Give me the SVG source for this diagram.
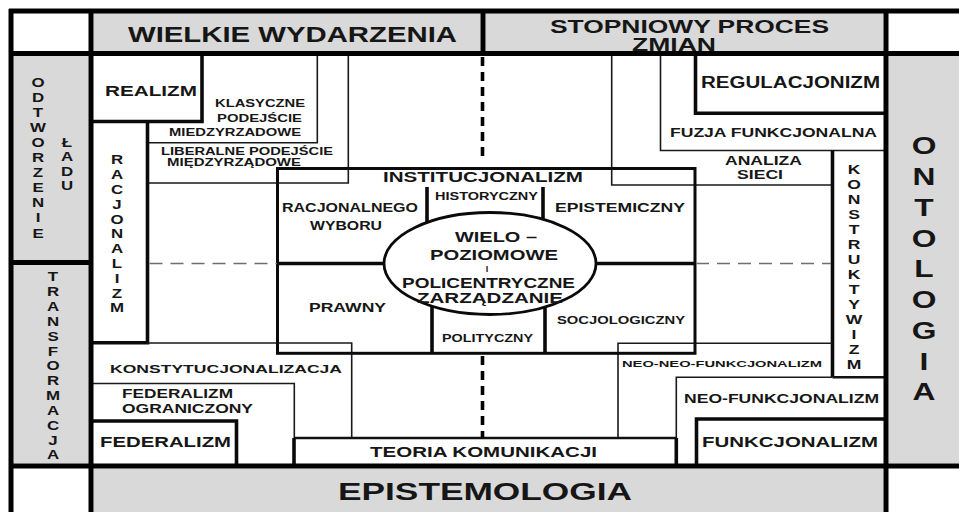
<svg xmlns="http://www.w3.org/2000/svg" width="959" height="512" viewBox="0 0 959 512">
<style>
text{font-family:"Liberation Sans",Arial,Helvetica,sans-serif;font-weight:bold;fill:#161616}
.band{fill:#d9d9d9}
.frame{stroke:#000;stroke-width:5;fill:none}
.thick{stroke:#0a0a0a;stroke-width:3.6;fill:none}
.mid{stroke:#111;stroke-width:2.6;fill:none}
.thin{stroke:#1a1a1a;stroke-width:1.6;fill:none}
.box{stroke:#0a0a0a;stroke-width:3;fill:none}
.axis{stroke:#000;stroke-width:3.6;stroke-dasharray:9 6;fill:none}
.grid{stroke:#6e6e6e;stroke-width:1.6;stroke-dasharray:13 8;fill:none}
.v text{text-anchor:middle}
</style>
<rect width="959" height="512" fill="#fff"/>

<!-- grey bands of the outer frame -->
<g id="bands">
  <rect class="band" x="93.5" y="13" width="387" height="38.5"/>
  <rect class="band" x="485.5" y="13" width="398" height="38.5"/>
  <rect class="band" x="13" y="56" width="75.5" height="204"/>
  <rect class="band" x="13" y="265" width="75.5" height="198.5"/>
  <rect class="band" x="888.5" y="56" width="70.5" height="407.5"/>
  <rect class="band" x="93.5" y="468.5" width="790" height="43.5"/>
</g>

<g id="wielkie-wydarzenia">
  <text x="128" y="42" font-size="22" textLength="329" lengthAdjust="spacingAndGlyphs">WIELKIE WYDARZENIA</text>
</g>
<g id="stopniowy-proces">
  <text x="550" y="32.5" font-size="17.5" textLength="279" lengthAdjust="spacingAndGlyphs">STOPNIOWY PROCES</text>
  <text x="632" y="51" font-size="17.5" textLength="84" lengthAdjust="spacingAndGlyphs">ZMIAN</text>
</g>
<g id="epistemologia">
  <text x="338" y="500" font-size="24" textLength="294" lengthAdjust="spacingAndGlyphs">EPISTEMOLOGIA</text>
</g>

<g id="odtworzenie-ladu" class="v">
  <g transform="translate(38 0) scale(1.35 1)">
    <text font-size="12.5"><tspan x="0" y="87.5">O</tspan><tspan x="0" y="102.5">D</tspan><tspan x="0" y="117.5">T</tspan><tspan x="0" y="132.5">W</tspan><tspan x="0" y="147.5">O</tspan><tspan x="0" y="162.5">R</tspan><tspan x="0" y="177.5">Z</tspan><tspan x="0" y="192.5">E</tspan><tspan x="0" y="207.5">N</tspan><tspan x="0" y="222.5">I</tspan><tspan x="0" y="237.5">E</tspan></text>
  </g>
  <g transform="translate(67 0) scale(1.35 1)">
    <text font-size="12.5"><tspan x="0" y="147.5">Ł</tspan><tspan x="0" y="161.5">A</tspan><tspan x="0" y="176">D</tspan><tspan x="0" y="190">U</tspan></text>
  </g>
</g>

<g id="transformacja" class="v">
  <g transform="translate(53 0) scale(1.35 1)">
    <text font-size="12.5"><tspan x="0" y="281.5">T</tspan><tspan x="0" y="296.3">R</tspan><tspan x="0" y="311.2">A</tspan><tspan x="0" y="326">N</tspan><tspan x="0" y="340.8">S</tspan><tspan x="0" y="355.7">F</tspan><tspan x="0" y="370.5">O</tspan><tspan x="0" y="385.3">R</tspan><tspan x="0" y="400.1">M</tspan><tspan x="0" y="415">A</tspan><tspan x="0" y="429.8">C</tspan><tspan x="0" y="444.6">J</tspan><tspan x="0" y="459.5">A</tspan></text>
  </g>
</g>

<g id="ontologia" class="v">
  <g transform="translate(924 0) scale(1.35 1)">
    <text font-size="23.5"><tspan x="0" y="154.5">O</tspan><tspan x="0" y="185.2">N</tspan><tspan x="0" y="216">T</tspan><tspan x="0" y="246.7">O</tspan><tspan x="0" y="277.5">L</tspan><tspan x="0" y="308.2">O</tspan><tspan x="0" y="339">G</tspan><tspan x="0" y="369.7">I</tspan><tspan x="0" y="400.5">A</tspan></text>
  </g>
</g>

<!-- left-hand family of approaches -->
<g id="realizm">
  <path class="thick" d="M202 53.5 V121.5 H91"/>
  <text x="105" y="96" font-size="15.5" textLength="92" lengthAdjust="spacingAndGlyphs">REALIZM</text>
</g>
<g id="klasyczne-podejscie">
  <path class="thin" d="M317.3 53.5 V142.8 H147.5"/>
  <text x="215" y="107" font-size="10.5" textLength="90" lengthAdjust="spacingAndGlyphs">KLASYCZNE</text>
  <text x="217" y="122" font-size="10.5" textLength="85" lengthAdjust="spacingAndGlyphs">PODEJŚCIE</text>
  <text x="169" y="136" font-size="10.5" textLength="132" lengthAdjust="spacingAndGlyphs">MIEDZYRZADOWE</text>
</g>
<g id="liberalne-podejscie">
  <path class="thin" d="M348.3 53.5 V183 H147.5"/>
  <text x="161" y="155" font-size="11" textLength="172" lengthAdjust="spacingAndGlyphs">LIBERALNE PODEJŚCIE</text>
  <text x="167" y="165.5" font-size="11" textLength="134" lengthAdjust="spacingAndGlyphs">MIĘDZYRZĄDOWE</text>
</g>
<g id="racjonalizm" class="v">
  <path class="thick" d="M147.5 121.5 V342.7 H91"/>
  <g transform="translate(117 0) scale(1.35 1)">
    <text font-size="12.5"><tspan x="0" y="164.5">R</tspan><tspan x="0" y="179.3">A</tspan><tspan x="0" y="194.1">C</tspan><tspan x="0" y="208.9">J</tspan><tspan x="0" y="223.7">O</tspan><tspan x="0" y="238.5">N</tspan><tspan x="0" y="253.3">A</tspan><tspan x="0" y="268.1">L</tspan><tspan x="0" y="282.9">I</tspan><tspan x="0" y="297.7">Z</tspan><tspan x="0" y="312.5">M</tspan></text>
  </g>
</g>
<g id="konstytucjonalizacja">
  <path class="thin" d="M147.5 343 H351.7 V438"/>
  <text x="110" y="373" font-size="11" textLength="232" lengthAdjust="spacingAndGlyphs">KONSTYTUCJONALIZACJA</text>
</g>
<g id="federalizm-ograniczony">
  <path class="thin" d="M91 383.5 H294.3 V438"/>
  <text x="122" y="398" font-size="13" textLength="111" lengthAdjust="spacingAndGlyphs">FEDERALIZM</text>
  <text x="122" y="413" font-size="13" textLength="131" lengthAdjust="spacingAndGlyphs">OGRANICZONY</text>
</g>
<g id="federalizm">
  <path class="thick" d="M91 421 H236.5 V466"/>
  <text x="100" y="447" font-size="15" textLength="131" lengthAdjust="spacingAndGlyphs">FEDERALIZM</text>
</g>

<!-- bottom strip -->
<g id="teoria-komunikacji">
  <path class="mid" d="M294 438 H676.3"/>
  <path class="thick" d="M294 438 V466 M676.3 438 V466"/>
  <text x="370" y="457" font-size="14.5" textLength="227" lengthAdjust="spacingAndGlyphs">TEORIA KOMUNIKACJI</text>
</g>

<!-- right-hand family of approaches -->
<g id="regulacjonizm">
  <path class="thick" d="M695.5 53.5 V113.3 H886"/>
  <text x="701" y="88" font-size="16" textLength="179" lengthAdjust="spacingAndGlyphs">REGULACJONIZM</text>
</g>
<g id="fuzja-funkcjonalna">
  <path class="thin" d="M660.5 53.5 V150.5 H886"/>
  <text x="670" y="137" font-size="12.5" textLength="207" lengthAdjust="spacingAndGlyphs">FUZJA FUNKCJONALNA</text>
</g>
<g id="analiza-sieci">
  <path class="thin" d="M611.7 53.5 V185 H832.5"/>
  <text x="725" y="164.5" font-size="12.5" textLength="77" lengthAdjust="spacingAndGlyphs">ANALIZA</text>
  <text x="737" y="178.5" font-size="12.5" textLength="46" lengthAdjust="spacingAndGlyphs">SIECI</text>
</g>
<g id="konstruktywizm" class="v">
  <path class="thick" d="M832.5 150.5 V377.3"/>
  <path class="mid" d="M832.5 377.3 H886"/>
  <g transform="translate(854 0) scale(1.35 1)">
    <text font-size="13"><tspan x="0" y="174.5">K</tspan><tspan x="0" y="189.5">O</tspan><tspan x="0" y="204.5">N</tspan><tspan x="0" y="219.5">S</tspan><tspan x="0" y="234.5">T</tspan><tspan x="0" y="249.5">R</tspan><tspan x="0" y="264.5">U</tspan><tspan x="0" y="279.5">K</tspan><tspan x="0" y="294.5">T</tspan><tspan x="0" y="309.5">Y</tspan><tspan x="0" y="324.5">W</tspan><tspan x="0" y="339.5">I</tspan><tspan x="0" y="354.5">Z</tspan><tspan x="0" y="369.5">M</tspan></text>
  </g>
</g>
<g id="neo-neo-funkcjonalizm">
  <path class="thin" d="M618 438 V343.3 H832.5"/>
  <text x="622" y="367" font-size="9.5" textLength="200" lengthAdjust="spacingAndGlyphs">NEO-NEO-FUNKCJONALIZM</text>
</g>
<g id="neo-funkcjonalizm">
  <path class="thin" d="M676.3 438 V377.3 H832.5"/>
  <text x="684" y="403" font-size="13" textLength="195" lengthAdjust="spacingAndGlyphs">NEO-FUNKCJONALIZM</text>
</g>
<g id="funkcjonalizm">
  <path class="thick" d="M696.5 466 V419 H886"/>
  <text x="702" y="447" font-size="15" textLength="176" lengthAdjust="spacingAndGlyphs">FUNKCJONALIZM</text>
</g>

<!-- central block: institutionalism around the governance ellipse -->
<g id="instytucjonalizm">
  <path class="thick" d="M427 187 V225 M543 187 V223 M432 298 V353 M545 298 V353"/>
  <path class="thick" d="M277.5 263.5 H387 M593 263.5 H695"/>
  <rect class="box" x="277.5" y="168.5" width="417.5" height="184.8"/>
  <text x="383" y="182" font-size="14" textLength="200" lengthAdjust="spacingAndGlyphs">INSTITUCJONALIZM</text>
  <text x="435" y="200" font-size="10" textLength="103" lengthAdjust="spacingAndGlyphs">HISTORYCZNY</text>
  <text x="282" y="212" font-size="12" textLength="136" lengthAdjust="spacingAndGlyphs">RACJONALNEGO</text>
  <text x="310" y="230" font-size="12" textLength="72" lengthAdjust="spacingAndGlyphs">WYBORU</text>
  <text x="555" y="212" font-size="12" textLength="130" lengthAdjust="spacingAndGlyphs">EPISTEMICZNY</text>
  <text x="309" y="312" font-size="12" textLength="77" lengthAdjust="spacingAndGlyphs">PRAWNY</text>
  <text x="557" y="324" font-size="11" textLength="128" lengthAdjust="spacingAndGlyphs">SOCJOLOGICZNY</text>
  <text x="442" y="342" font-size="11" textLength="91" lengthAdjust="spacingAndGlyphs">POLITYCZNY</text>
</g>
<g id="zarzadzanie">
  <ellipse cx="490" cy="263.5" rx="106" ry="51" fill="#fff" stroke="#0a0a0a" stroke-width="2.8"/>
  <text x="455" y="242" font-size="14.5" textLength="82" lengthAdjust="spacingAndGlyphs">WIELO –</text>
  <text x="430" y="259.5" font-size="14.5" textLength="128" lengthAdjust="spacingAndGlyphs">POZIOMOWE</text>
  <text x="487" y="272" font-size="9" text-anchor="middle">I</text>
  <text x="402" y="288" font-size="14" textLength="173" lengthAdjust="spacingAndGlyphs">POLICENTRYCZNE</text>
  <text x="417" y="302.5" font-size="14" textLength="146" lengthAdjust="spacingAndGlyphs">ZARZĄDZANIE</text>
</g>

<!-- dashed axes -->
<g id="connectors">
  <path class="axis" d="M482.5 57 V162"/>
  <path class="axis" d="M482.5 356 V438"/>
  <path class="grid" d="M149.5 263.5 H277"/>
  <path class="grid" d="M696 263.5 H831"/>
</g>

<!-- outer frame -->
<g id="frame">
  <path class="frame" stroke-width="4" d="M9 11 H959"/>
  <path class="frame" d="M9 53.5 H959 M9 466 H959"/>
  <path class="frame" stroke-width="4" d="M11 9 V512"/>
  <path class="frame" d="M91 9 V512 M886 9 V512 M11 262.5 H91 M483 11 V53.5"/>
</g>
</svg>
